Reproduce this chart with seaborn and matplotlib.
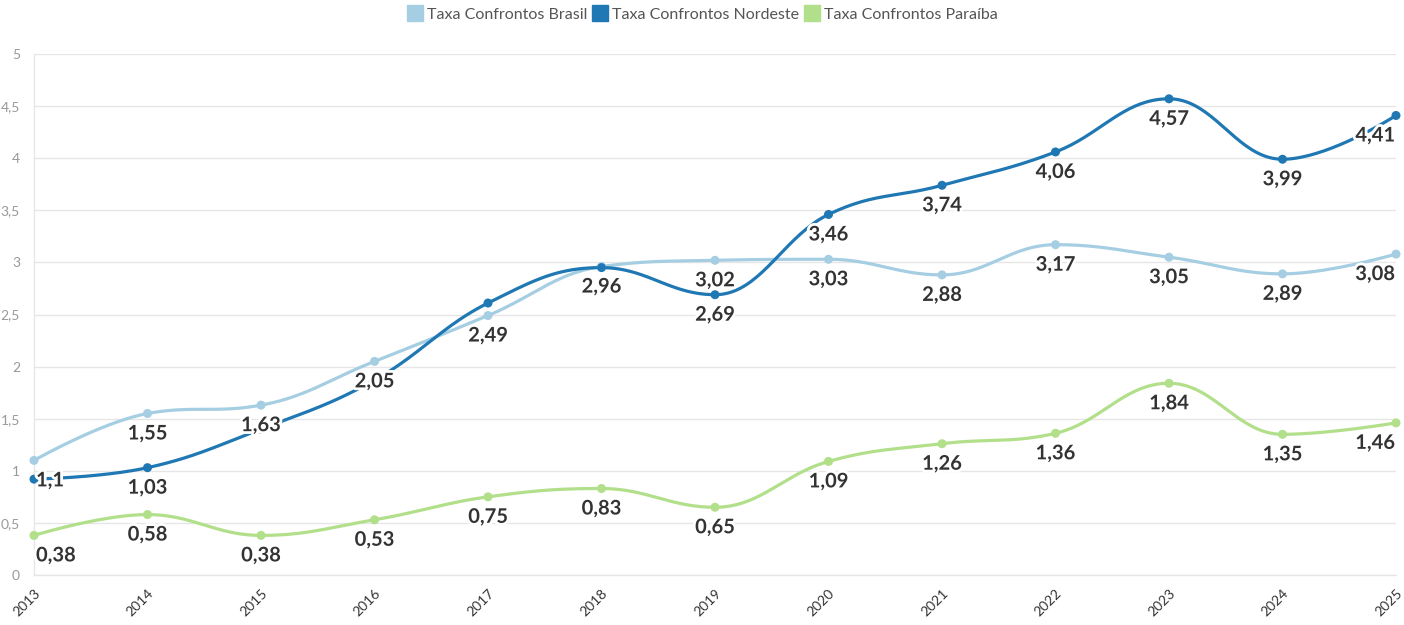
import numpy as np
import pandas as pd
import matplotlib
matplotlib.use("Agg")
import matplotlib.pyplot as plt
import matplotlib.patheffects as pe
import seaborn as sns

# Rates by year
years = list(range(2013, 2026))
brasil = [1.10, 1.55, 1.63, 2.05, 2.49, 2.96, 3.02, 3.03, 2.88, 3.17, 3.05, 2.89, 3.08]
nordeste = [0.92, 1.03, 1.40, 1.87, 2.61, 2.95, 2.69, 3.46, 3.74, 4.06, 4.57, 3.99, 4.41]
paraiba = [0.38, 0.58, 0.38, 0.53, 0.75, 0.83, 0.65, 1.09, 1.26, 1.36, 1.84, 1.35, 1.46]

series_names = ["Taxa Confrontos Brasil", "Taxa Confrontos Nordeste", "Taxa Confrontos Paraíba"]
series_values = [brasil, nordeste, paraiba]
# which points carry a visible value label (overlapping ones are hidden)
label_shown = [
    [True] * 13,
    [False, True, False, False, False, False, True, True, True, True, True, True, True],
    [True] * 13,
]
colors = sns.color_palette("Paired", 4)
series_colors = [colors[0], colors[1], colors[2]]


def spline_curve(xs, ys, n=40, smoothing=1.5):
    """Smooth curve through the points using cubic Bezier segments."""
    xs = np.asarray(xs, float)
    ys = np.asarray(ys, float)
    m = len(xs)
    denom = smoothing + 1
    left = [(xs[i], ys[i]) for i in range(m)]
    right = [(xs[i], ys[i]) for i in range(m)]
    for i in range(1, m - 1):
        px, py = xs[i], ys[i]
        lx, ly = xs[i - 1], ys[i - 1]
        nx, ny = xs[i + 1], ys[i + 1]
        lcx = (smoothing * px + lx) / denom
        lcy = (smoothing * py + ly) / denom
        rcx = (smoothing * px + nx) / denom
        rcy = (smoothing * py + ny) / denom
        if rcx != lcx:
            corr = ((rcy - lcy) * (rcx - px)) / (rcx - lcx) + py - rcy
            lcy += corr
            rcy += corr
            if lcy > ly and lcy > py:
                lcy = max(ly, py)
                rcy = 2 * py - lcy
            elif lcy < ly and lcy < py:
                lcy = min(ly, py)
                rcy = 2 * py - lcy
            if rcy > ny and rcy > py:
                rcy = max(ny, py)
                lcy = 2 * py - rcy
            elif rcy < ny and rcy < py:
                rcy = min(ny, py)
                lcy = 2 * py - rcy
        left[i] = (lcx, lcy)
        right[i] = (rcx, rcy)
    out_x, out_y = [], []
    t = np.linspace(0, 1, n)
    for i in range(1, m):
        p0 = np.array([xs[i - 1], ys[i - 1]])
        p1 = np.array(right[i - 1])
        p2 = np.array(left[i])
        p3 = np.array([xs[i], ys[i]])
        pts = ((1 - t)[:, None] ** 3 * p0 + 3 * ((1 - t) ** 2 * t)[:, None] * p1
               + 3 * ((1 - t) * t ** 2)[:, None] * p2 + (t ** 3)[:, None] * p3)
        if i > 1:
            pts = pts[1:]
        out_x.extend(pts[:, 0])
        out_y.extend(pts[:, 1])
    return np.array(out_x), np.array(out_y)


sns.set_theme(style="white")
plt.rcParams["font.family"] = ["Lato", "DejaVu Sans"]

fig = plt.figure(figsize=(14.04, 6.25), dpi=100)
ax = fig.add_axes([34 / 1404, 50 / 625, (1396 - 34) / 1404, (575 - 54) / 625])

for name, vals, col in zip(series_names, series_values, series_colors):
    cx, cy = spline_curve(years, vals)
    curve = pd.DataFrame({"x": cx, "y": cy})
    sns.lineplot(data=curve, x="x", y="y", ax=ax, color=col, linewidth=2.3,
                 sort=False, estimator=None, clip_on=False, zorder=3)
    pts = pd.DataFrame({"x": years, "y": vals})
    sns.scatterplot(data=pts, x="x", y="y", ax=ax, color=col, s=42,
                    edgecolor="none", clip_on=False, zorder=4)

# value labels below each point
halo = [pe.withStroke(linewidth=4, foreground="white")]
for vals, shown in zip(series_values, label_shown):
    for yr, v, s in zip(years, vals, shown):
        if not s:
            continue
        txt = f"{v:.2f}".rstrip("0").rstrip(".").replace(".", ",")
        if yr == years[0]:
            ha, dx = "left", 2
        elif yr == years[-1]:
            ha, dx = "right", -1
        else:
            ha, dx = "center", 0
        ax.annotate(txt, (yr, v), xytext=(dx, -20), textcoords="offset pixels",
                    ha=ha, va="center", fontsize=14.5, fontweight="bold",
                    color="#333333", path_effects=halo, zorder=6,
                    annotation_clip=False)

ax.set_xlim(2013, 2025)
ax.set_ylim(0, 5)
ax.set_xticks(years)
ax.set_xticklabels([str(y) for y in years], rotation=45, ha="right",
                   rotation_mode="anchor", fontsize=10, color="#333333")
yt = [0, 0.5, 1, 1.5, 2, 2.5, 3, 3.5, 4, 4.5, 5]
ax.set_yticks(yt)
ax.set_yticklabels([f"{v:g}".replace(".", ",") for v in yt], fontsize=10, color="#999999")
ax.set_xlabel("")
ax.set_ylabel("")
ax.grid(axis="y", color="#e6e6e6", linewidth=1)
ax.set_axisbelow(True)
for sp in ["top", "right"]:
    ax.spines[sp].set_visible(False)
for sp in ["left", "bottom"]:
    ax.spines[sp].set_color("#e6e6e6")
    ax.spines[sp].set_linewidth(1)
ax.tick_params(axis="both", which="both", length=7, width=1, color="#e6e6e6", pad=3)
ax.tick_params(axis="x", pad=2)

# legend
handles = [plt.Line2D([], [], marker="s", linestyle="none", markersize=12,
                      markerfacecolor=c, markeredgecolor=c) for c in series_colors]
leg = fig.legend(handles, series_names, loc="center", bbox_to_anchor=(0.5, 1 - 15 / 625),
                 ncol=3, frameon=False, fontsize=11.5, handletextpad=0.25,
                 columnspacing=0.3, handlelength=1.0, labelcolor="#555555")

fig.savefig("out.png", dpi=100, facecolor="white")
